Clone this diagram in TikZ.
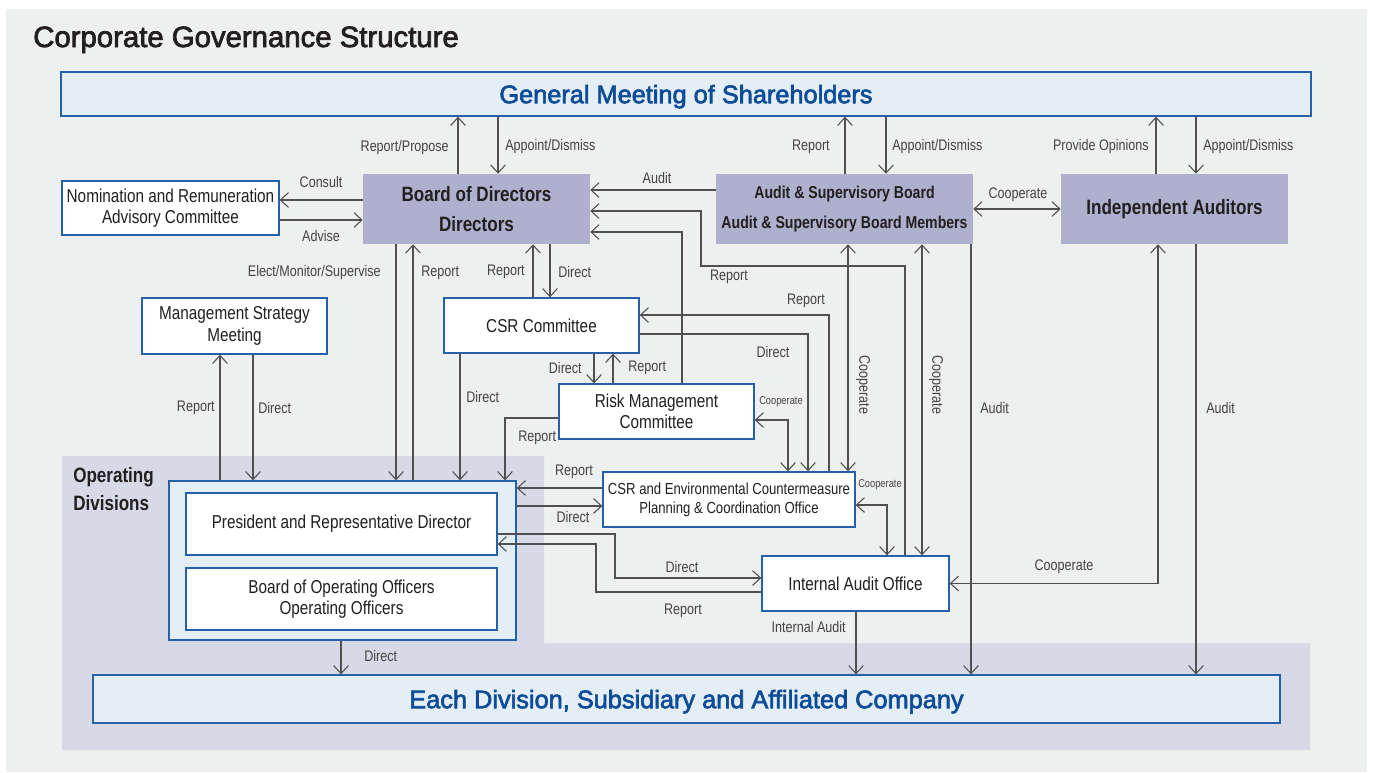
\documentclass[tikz,border=0pt]{standalone}
\usepackage{fontspec}
\setmainfont{Liberation Sans}
\newfontfamily\condfont{Liberation Sans}[FakeStretch=0.82]
\newfontfamily\medfont{Liberation Sans}[FakeBold=2.5]
\usetikzlibrary{arrows.meta}
\definecolor{panelgray}{HTML}{EEEFEF}
\definecolor{divlav}{HTML}{D8D9E7}
\definecolor{boardlav}{HTML}{AEB0CD}
\definecolor{paleblue}{HTML}{E4EEF6}
\definecolor{frameblue}{HTML}{2660A8}
\definecolor{headblue}{HTML}{0E4C97}
\definecolor{inkdark}{HTML}{231F20}
\definecolor{wiregray}{HTML}{505050}
\definecolor{labgray}{HTML}{444444}

\begin{document}
\begin{tikzpicture}[x=0.75pt, y=-0.75pt,
  box/.style={rectangle, draw=frameblue, line width=1pt, fill=white, align=center,
              text=inkdark, inner sep=2pt, font=\condfont\fontsize{14}{16}\selectfont},
  board/.style={rectangle, fill=boardlav, align=center, text=inkdark, inner sep=1pt,
                font=\condfont\bfseries\fontsize{15.6}{22.5}\selectfont,
                minimum width=170.25pt, minimum height=52.5pt},
  band/.style={rectangle, draw=frameblue, line width=1pt, fill=paleblue, text depth=0pt,
               text=headblue, font=\medfont\fontsize{19}{22}\selectfont},
  ar/.style={draw=wiregray, line width=0.8pt, -{Straight Barb[length=6pt,width=11pt]}},
  bi/.style={ar, {Straight Barb[length=6pt,width=11pt]}-{Straight Barb[length=6pt,width=11pt]}},
  lab/.style={inner sep=0pt, text=labgray, font=\condfont\fontsize{11.5}{13}\selectfont},
  smalllab/.style={lab, font=\condfont\fontsize{8.5}{10}\selectfont},
]
% background
\fill[white] (0,0) rectangle (1373,772);
\fill[panelgray] (6,9) rectangle (1367,772);
\fill[divlav] (62,456) -- (544,456) -- (544,643) -- (1310,643) -- (1310,750) -- (62,750) -- cycle;
\useasboundingbox (0,0) rectangle (1373,772);

\node[anchor=base west, inner sep=0pt, text=inkdark, font=\medfont\fontsize{22}{26}\selectfont]
    (title) at (33,47) {Corporate Governance Structure};

\node[band, minimum width=937.5pt, minimum height=33pt] (gms) at (686,94) {General Meeting of Shareholders};
\node[band, minimum width=890.25pt, minimum height=36pt] (each) at (686.5,699)
    {Each Division, Subsidiary and Affiliated Company};

\node[box, minimum width=162.75pt, minimum height=40.5pt] (nrac) at (170.5,208)
    {Nomination and Remuneration\\Advisory Committee};
\node[board] (bod) at (476.5,209) {Board of Directors\\Directors};
\node[board, minimum width=192.75pt, font=\condfont\bfseries\fontsize{12.9}{22.5}\selectfont]
    (asb) at (844.5,209) {Audit \& Supervisory Board\\Audit \& Supervisory Board Members};
\node[board] (ia) at (1174.5,209) {Independent Auditors};

\node[box, minimum width=138.75pt, minimum height=42pt] (msm) at (234.5,326) {Management Strategy\\Meeting};
\node[box, minimum width=146.25pt, minimum height=41.25pt] (csrc) at (541.5,325.5) {CSR Committee};
\node[box, minimum width=146.25pt, minimum height=41.25pt] (rmc) at (656.5,411.5) {Risk Management\\Committee};
\node[box, minimum width=189pt, minimum height=41.25pt, font=\condfont\fontsize{12}{14.2}\selectfont]
    (csre) at (729,499.5) {CSR and Environmental Countermeasure\\Planning \& Coordination Office};
\node[box, minimum width=140.25pt, minimum height=41.25pt] (iao) at (855.5,583.5) {Internal Audit Office};

% operating divisions
\node[anchor=west, align=left, inner sep=0pt, text=inkdark,
      font=\condfont\bfseries\fontsize{15.6}{21}\selectfont] (opdiv) at (73,489) {Operating\\Divisions};
\node[box, fill=paleblue, minimum width=260.25pt, minimum height=119.25pt] (opbox) at (342.5,560.5) {};
\node[box, minimum width=233.25pt, minimum height=46.5pt] (pres) at (341.5,524) {President and Representative Director};
\node[box, minimum width=233.25pt, minimum height=46.5pt] (booo) at (341.5,599)
    {Board of Operating Officers\\Operating Officers};

% shareholders
\draw[ar] (458,0 |- bod.north) -- (458,0 |- gms.south);
\draw[ar] (498,0 |- gms.south) -- (498,0 |- bod.north);
\draw[ar] (845,0 |- asb.north) -- (845,0 |- gms.south);
\draw[ar] (886,0 |- gms.south) -- (886,0 |- asb.north);
\draw[ar] (1156,0 |- ia.north) -- (1156,0 |- gms.south);
\draw[ar] (1196,0 |- gms.south) -- (1196,0 |- ia.north);
\node[lab, anchor=east] (tRepProp) at (449,148) {Report/Propose};
\node[lab, anchor=west] (tApp1) at (505,147) {Appoint/Dismiss};
\node[lab, anchor=east] (tRepA) at (830,147) {Report};
\node[lab, anchor=west] (tApp2) at (892,147) {Appoint/Dismiss};
\node[lab, anchor=east] (tOpin) at (1149,147) {Provide Opinions};
\node[lab, anchor=west] (tApp3) at (1203,147) {Appoint/Dismiss};

% board level
\draw[ar] (bod.west |- 0,200) -- (nrac.east |- 0,200);
\draw[ar] (nrac.east |- 0,220) -- (bod.west |- 0,220);
\draw[ar] (asb.west |- 0,190) -- (bod.east |- 0,190);
\draw[bi] (asb.east) -- (ia.west);
\node[lab] (tCons) at (321,182) {Consult};
\node[lab] (tAdv) at (321,236) {Advise};
\node[lab] (tAud1) at (657,178) {Audit};
\node[lab] (tCoop1) at (1018,195) {Cooperate};

\draw[ar] (905,0 |- iao.north) |- (701,266) |- (bod.east |- 0,211);
\draw[ar] (682,0 |- rmc.north) |- (bod.east |- 0,232);
\node[lab] (tRepIao) at (729,277) {Report};

% board to operating
\draw[ar] (396,0 |- bod.south) -- (396,0 |- opbox.north);
\draw[ar] (413,0 |- opbox.north) -- (413,0 |- bod.south);
\draw[ar] (533,0 |- csrc.north) -- (533,0 |- bod.south);
\draw[ar] (550,0 |- bod.south) -- (550,0 |- csrc.north);
\node[lab, anchor=east] (tElect) at (381,273) {Elect/Monitor/Supervise};
\node[lab, anchor=west] (tRepOp) at (421,273) {Report};
\node[lab, anchor=east] (tRepCsr) at (525,272) {Report};
\node[lab, anchor=west] (tDirCsr) at (558,272) {Direct};

% committees
\draw[ar] (460,0 |- csrc.south) -- (460,0 |- opbox.north);
\draw[ar] (594,0 |- csrc.south) -- (594,0 |- rmc.north);
\draw[ar] (613,0 |- rmc.north) -- (613,0 |- csrc.south);
\draw[ar] (rmc.west |- 0,418) -| (505,0 |- opbox.north);
\node[lab, anchor=west] (tDirOp) at (466,397) {Direct};
\node[lab, anchor=east] (tDirRm) at (582,368) {Direct};
\node[lab, anchor=west] (tRepRm) at (628,368) {Report};
\node[lab, anchor=west] (tRepRmOp) at (518,438) {Report};

\draw[bi] (rmc.east |- 0,420) -| (788,0 |- csre.north);
\draw[ar] (csrc.east |- 0,334) -| (808,0 |- csre.north);
\draw[ar] (829,0 |- csre.north) |- (csrc.east |- 0,315);
\node[smalllab, anchor=west] (tCoopRm) at (759,402) {Cooperate};
\node[lab] (tDirCe) at (773,352) {Direct};
\node[lab] (tRepCe) at (806,301) {Report};

% audit board down
\draw[bi] (848,0 |- asb.south) -- (848,0 |- csre.north);
\draw[bi] (922,0 |- asb.south) -- (922,0 |- iao.north);
\draw[ar] (971,0 |- asb.south) -- (971,0 |- each.north);
\node[lab, rotate=-90] (tCoop2) at (863,385) {Cooperate};
\node[lab, rotate=-90] (tCoop3) at (936,385) {Cooperate};
\node[lab, anchor=west] (tAud2) at (980,408) {Audit};

% independent auditors down
\draw[bi] (1158,0 |- ia.south) |- (iao.east);
\draw[ar] (1196,0 |- ia.south) -- (1196,0 |- each.north);
\node[lab] (tCoop4) at (1064,567) {Cooperate};
\node[lab, anchor=west] (tAud3) at (1206,408) {Audit};

% offices
\draw[bi] (csre.east |- 0,505) -| (887,0 |- iao.north);
\draw[ar] (csre.west |- 0,488) -- (opbox.east |- 0,488);
\draw[ar] (opbox.east |- 0,506) -- (csre.west |- 0,506);
\draw[ar] (pres.east |- 0,534) -| (615,578) -- (iao.west |- 0,578);
\draw[ar] (iao.west |- 0,592) -| (596,544) -- (pres.east |- 0,544);
\draw[ar] (856,0 |- iao.south) -- (856,0 |- each.north);
\node[smalllab, anchor=west] (tCoopCe) at (858,485) {Cooperate};
\node[lab] (tRepCeOp) at (574,472) {Report};
\node[lab] (tDirOpCe) at (573,517) {Direct};
\node[lab] (tDirIao) at (682,567) {Direct};
\node[lab] (tRepIaoP) at (683,611) {Report};
\node[lab, anchor=east] (tIntAud) at (846,627) {Internal Audit};

% management strategy meeting
\draw[ar] (220,0 |- opbox.north) -- (220,0 |- msm.south);
\draw[ar] (253,0 |- msm.south) -- (253,0 |- opbox.north);
\draw[ar] (341,0 |- opbox.south) -- (341,0 |- each.north);
\node[lab, anchor=east] (tRepMsm) at (215,408) {Report};
\node[lab, anchor=west] (tDirMsm) at (258,408) {Direct};
\node[lab, anchor=west] (tDirEach) at (364,656) {Direct};
\end{tikzpicture}
\end{document}
